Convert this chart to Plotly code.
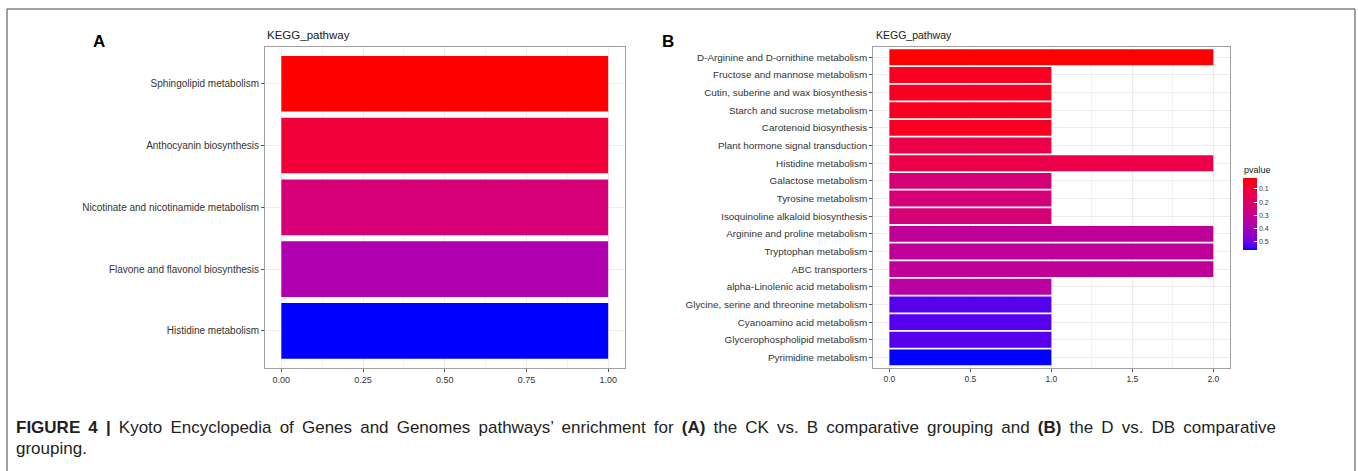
import plotly.graph_objects as go

# ---------------- data ----------------
a_pathways = [
    "Sphingolipid metabolism",
    "Anthocyanin biosynthesis",
    "Nicotinate and nicotinamide metabolism",
    "Flavone and flavonol biosynthesis",
    "Histidine metabolism",
]
a_counts = [1, 1, 1, 1, 1]
a_pvalues = [0.04, 0.12, 0.25, 0.37, 0.54]

b_pathways = [
    "D-Arginine and D-ornithine metabolism",
    "Fructose and mannose metabolism",
    "Cutin, suberine and wax biosynthesis",
    "Starch and sucrose metabolism",
    "Carotenoid biosynthesis",
    "Plant hormone signal transduction",
    "Histidine metabolism",
    "Galactose metabolism",
    "Tyrosine metabolism",
    "Isoquinoline alkaloid biosynthesis",
    "Arginine and proline metabolism",
    "Tryptophan metabolism",
    "ABC transporters",
    "alpha-Linolenic acid metabolism",
    "Glycine, serine and threonine metabolism",
    "Cyanoamino acid metabolism",
    "Glycerophospholipid metabolism",
    "Pyrimidine metabolism",
]
b_counts = [2, 1, 1, 1, 1, 1, 2, 1, 1, 1, 2, 2, 2, 1, 1, 1, 1, 1]
b_pvalues = [0.015, 0.056, 0.056, 0.056, 0.056, 0.135, 0.135, 0.244, 0.244, 0.244,
             0.326, 0.326, 0.326, 0.342, 0.522, 0.522, 0.522, 0.56]

a_xticks = [0, 0.25, 0.5, 0.75, 1.0]
a_xticklabels = ["0.00", "0.25", "0.50", "0.75", "1.00"]
b_xticks = [0, 0.5, 1.0, 1.5, 2.0]
b_xticklabels = ["0.0", "0.5", "1.0", "1.5", "2.0"]
legend_ticks = [0.1, 0.2, 0.3, 0.4, 0.5]
legend_ticklabels = ["0.1", "0.2", "0.3", "0.4", "0.5"]

caption_line1 = ["<b>FIGURE", "4", "|</b>", "Kyoto", "Encyclopedia", "of", "Genes", "and",
                 "Genomes", "pathways’", "enrichment", "for", "<b>(A)</b>", "the", "CK",
                 "vs.", "B", "comparative", "grouping", "and", "<b>(B)</b>", "the", "D",
                 "vs.", "DB", "comparative"]
caption_line2 = "grouping."

# ---------------- colour scale (Lab interpolation red -> blue, like ggplot) ----------------
def srgb_to_lab(rgb):
    def lin(c):
        c /= 255.0
        return c / 12.92 if c <= 0.04045 else ((c + 0.055) / 1.055) ** 2.4
    r, g, b = [lin(c) for c in rgb]
    X = 0.4124564 * r + 0.3575761 * g + 0.1804375 * b
    Y = 0.2126729 * r + 0.7151522 * g + 0.0721750 * b
    Z = 0.0193339 * r + 0.1191920 * g + 0.9503041 * b
    def f(t):
        return t ** (1 / 3) if t > 0.008856 else 7.787 * t + 16 / 116
    fx, fy, fz = f(X / 0.95047), f(Y / 1.0), f(Z / 1.08883)
    return 116 * fy - 16, 500 * (fx - fy), 200 * (fy - fz)


def lab_to_srgb(L, a, b):
    fy = (L + 16) / 116
    fx = fy + a / 500
    fz = fy - b / 200
    def finv(t):
        return t ** 3 if t ** 3 > 0.008856 else (t - 16 / 116) / 7.787
    X = 0.95047 * finv(fx)
    Y = finv(fy)
    Z = 1.08883 * finv(fz)
    r = 3.2404542 * X - 1.5371385 * Y - 0.4985314 * Z
    g = -0.9692660 * X + 1.8760108 * Y + 0.0415560 * Z
    bb = 0.0556434 * X - 0.2040259 * Y + 1.0572252 * Z
    def gam(c):
        c = min(max(c, 0.0), 1.0)
        return 12.92 * c if c <= 0.0031308 else 1.055 * c ** (1 / 2.4) - 0.055
    return tuple(int(round(gam(c) * 255)) for c in (r, g, bb))


low_lab = srgb_to_lab((255, 0, 0))
high_lab = srgb_to_lab((0, 0, 255))
NSTOP = 25
red_to_blue = []
for i in range(NSTOP):
    t = i / (NSTOP - 1)
    lab = [low_lab[k] + (high_lab[k] - low_lab[k]) * t for k in range(3)]
    r, g, b = lab_to_srgb(*lab)
    red_to_blue.append([t, f"rgb({r},{g},{b})"])
blue_to_red = [[1 - t, c] for t, c in reversed(red_to_blue)]

# ---------------- figure ----------------
W, H = 1358, 471
FONT = "Liberation Sans, Arial, Helvetica, sans-serif"
AX_TEXT = "#333333"

def px(x):
    return x / W

def py(y):
    return 1 - y / H

fig = go.Figure()

fig.add_trace(go.Bar(
    x=a_counts, y=a_pathways, orientation="h",
    marker=dict(color=a_pvalues, colorscale=red_to_blue,
                cmin=min(a_pvalues), cmax=max(a_pvalues),
                showscale=False, line=dict(width=0)),
    xaxis="x", yaxis="y", showlegend=False,
))

fig.add_trace(go.Bar(
    x=b_counts, y=b_pathways, orientation="h",
    marker=dict(color=[-p for p in b_pvalues], colorscale=blue_to_red,
                cmin=-max(b_pvalues), cmax=-min(b_pvalues),
                showscale=True, line=dict(width=0),
                colorbar=dict(
                    x=px(1243), xanchor="left", y=py(177.7), yanchor="top",
                    len=71.6, lenmode="pixels", thickness=14, thicknessmode="pixels",
                    outlinewidth=0, xpad=0, ypad=0,
                    tickvals=[-v for v in legend_ticks], ticktext=legend_ticklabels,
                    ticks="inside", ticklen=3, tickcolor="white", tickwidth=1,
                    tickfont=dict(family=FONT, size=7, color="#333333"),
                )),
    xaxis="x2", yaxis="y2", showlegend=False,
))

common_x = dict(
    showgrid=True, gridcolor="#EBEBEB", gridwidth=1,
    zeroline=False, showline=True, mirror=True, linecolor="#A0A0A0", linewidth=1,
    ticks="outside", ticklen=3, tickcolor="#555555", tickwidth=1,
    fixedrange=True,
)
common_y = dict(
    type="category", showgrid=True, gridcolor="#EBEBEB", gridwidth=1,
    zeroline=False, showline=True, mirror=True, linecolor="#A0A0A0", linewidth=1,
    ticks="outside", ticklen=3, tickcolor="#555555", tickwidth=1,
    fixedrange=True,
)

fig.update_layout(
    width=W, height=H, autosize=False,
    margin=dict(l=0, r=0, t=0, b=0),
    paper_bgcolor="white", plot_bgcolor="white",
    bargap=0.1,
    font=dict(family=FONT, color="#222222"),
    xaxis=dict(domain=[px(265), px(624.5)], range=[-0.05, 1.05], anchor="y",
               tickvals=a_xticks, ticktext=a_xticklabels,
               tickfont=dict(family=FONT, size=9, color=AX_TEXT),
               minor=dict(showgrid=True, gridcolor="#F4F4F4", gridwidth=1, dtick=0.125,
                          tick0=0.125, ticks=""),
               **common_x),
    yaxis=dict(domain=[py(368), py(46.7)], anchor="x",
               categoryorder="array", categoryarray=a_pathways,
               tickfont=dict(family=FONT, size=10, color=AX_TEXT),
               range=[len(a_pathways) - 0.4, -0.6], **common_y),
    xaxis2=dict(domain=[px(873.2), px(1229.5)], range=[-0.1, 2.1], anchor="y2",
                tickvals=b_xticks, ticktext=b_xticklabels,
                tickfont=dict(family=FONT, size=8.5, color=AX_TEXT),
                minor=dict(showgrid=True, gridcolor="#F4F4F4", gridwidth=1, dtick=0.25,
                           tick0=0.25, ticks=""),
                **common_x),
    yaxis2=dict(domain=[py(368), py(46.7)], anchor="x2",
                categoryorder="array", categoryarray=b_pathways,
                tickfont=dict(family=FONT, size=9.9, color=AX_TEXT),
                range=[len(b_pathways) - 0.4, -0.6], **common_y),
)

# justified first caption line: normal space plus a thin space between words
gap = " \u2009"
caption1_text = gap.join(caption_line1)

annotations = [
    dict(text="<b>A</b>", x=px(98.5), y=py(42), xanchor="center", yanchor="middle",
         font=dict(family=FONT, size=17, color="#000000")),
    dict(text="<b>B</b>", x=px(667.5), y=py(42), xanchor="center", yanchor="middle",
         font=dict(family=FONT, size=17, color="#000000")),
    dict(text="KEGG_pathway", x=px(265), y=py(35.5), xanchor="left", yanchor="middle",
         font=dict(family=FONT, size=11.5, color="#1A1A1A")),
    dict(text="KEGG_pathway", x=px(874), y=py(35.5), xanchor="left", yanchor="middle",
         font=dict(family=FONT, size=10.5, color="#1A1A1A")),
    dict(text="pvalue", x=px(1242), y=py(170), xanchor="left", yanchor="middle",
         font=dict(family=FONT, size=9, color="#1A1A1A")),
    dict(text=caption1_text, x=px(14), y=py(427), xanchor="left", yanchor="middle",
         font=dict(family=FONT, size=17, color="#231F20")),
    dict(text=caption_line2, x=px(14), y=py(448), xanchor="left", yanchor="middle",
         font=dict(family=FONT, size=17, color="#231F20")),
]
for a in annotations:
    a.update(xref="paper", yref="paper", showarrow=False)
fig.update_layout(annotations=annotations)

# outer frame (open at the bottom)
frame = dict(type="line", xref="paper", yref="paper", line=dict(color="#808080", width=1.5))
fig.update_layout(shapes=[
    dict(frame, x0=px(7), x1=px(7), y0=0, y1=py(9)),
    dict(frame, x0=px(7), x1=px(1355), y0=py(9), y1=py(9)),
    dict(frame, x0=px(1355), x1=px(1355), y0=0, y1=py(9)),
])

fig.write_html("out.html", config=dict(displayModeBar=False),
               post_script="document.body.style.margin='0';")
